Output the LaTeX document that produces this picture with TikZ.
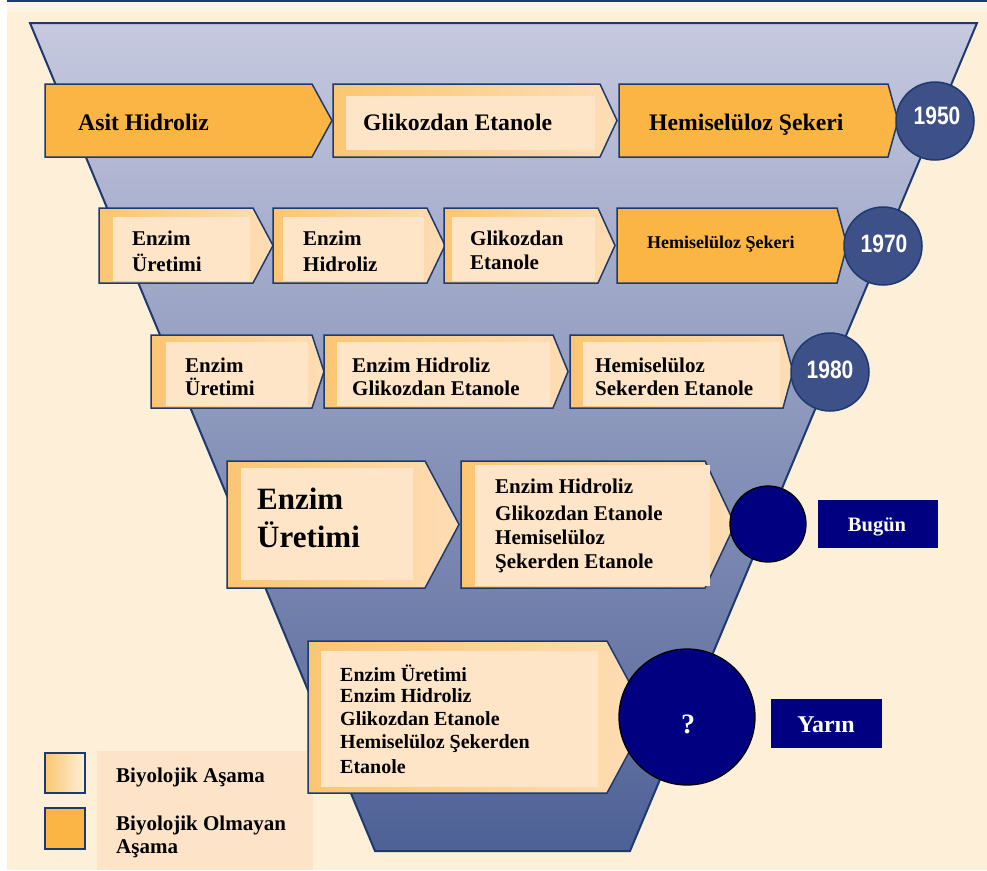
\documentclass[tikz,border=0pt]{standalone}
\usepackage{fontspec}
\setmainfont{Liberation Serif}
\newfontfamily\yearfont{Liberation Sans}

\definecolor{cream}{HTML}{FEEFD8}
\definecolor{creamlight}{HTML}{FEF4E6}
\definecolor{edgeblue}{HTML}{1C3A6F}
\definecolor{funtop}{HTML}{C6C9DF}
\definecolor{funmid}{HTML}{8C97BF}
\definecolor{funbot}{HTML}{4E6196}
\definecolor{orfill}{HTML}{FBB545}
\definecolor{frameor}{HTML}{FBC672}
\definecolor{framelt}{HTML}{FEDDB6}
\definecolor{panel}{HTML}{FEE5C8}
\definecolor{legendbg}{HTML}{FDE4C8}
\definecolor{yearblue}{HTML}{3D5087}
\definecolor{navy}{HTML}{000080}

% chevron boxes: #1 left x, #2 top y, #3 right x, #4 tip x, #5 bottom y, #6 middle y
\newcommand\orchev[6]{%
  \filldraw[fill=orfill, draw=edgeblue, line width=1.5pt, line join=miter]
    (#1,#2) -- (#3,#2) -- (#4,#6) -- (#3,#5) -- (#1,#5) -- cycle;}
\newcommand\ltchev[6]{%
  \shadedraw[left color=frameor, right color=framelt, draw=edgeblue, line width=1.5pt, line join=miter]
    (#1,#2) -- (#3,#2) -- (#4,#6) -- (#3,#5) -- (#1,#5) -- cycle;}
% inner text panel: corners
\newcommand\panelrect[4]{\fill[panel] (#1,#2) rectangle (#3,#4);}

\tikzset{
  lbl/.style={anchor=base west, inner sep=0pt, font=\bfseries\fontsize{21}{25}\selectfont},
  lblbig/.style={anchor=base west, inner sep=0pt, font=\bfseries\fontsize{23.7}{28}\selectfont},
  lblsmall/.style={anchor=base west, inner sep=0pt, font=\bfseries\fontsize{18}{21}\selectfont},
  lblhuge/.style={anchor=base west, inner sep=0pt, font=\bfseries\fontsize{31}{36}\selectfont},
  lblfive/.style={anchor=base west, inner sep=0pt, font=\bfseries\fontsize{20}{24}\selectfont},
  yearcirc/.style={circle, fill=yearblue, draw=edgeblue, line width=1.5pt, minimum size=78pt, inner sep=0pt},
  navycirc/.style={circle, fill=navy, draw=black, line width=1.3pt, inner sep=0pt},
  yeartxt/.style={anchor=center, inner sep=0pt, text=white, font=\yearfont\bfseries\fontsize{21}{21}\selectfont},
  tagbox/.style={fill=navy, inner sep=0pt},
  tagtxt/.style={anchor=base, inner sep=0pt, text=white, font=\bfseries\fontsize{20.5}{24}\selectfont},
}

\begin{document}
\begin{tikzpicture}[x=1pt, y=-1pt]
\useasboundingbox (0,0) rectangle (987,870);

% page background and top rule
\fill[white] (0,0) rectangle (987,870);
\fill[cream] (7,0) rectangle (987,870);
\fill[creamlight] (7,2) rectangle (987,12);
\draw[edgeblue, line width=2.5pt] (7,1) -- (987,1);

% funnel
\shade[top color=funtop, middle color=funmid, bottom color=funbot]
  (30,23) -- (977,23) -- (630,851) -- (375,851) -- cycle;
\draw[edgeblue, line width=2pt, line join=miter]
  (30,23) -- (977,23) -- (630,851) -- (375,851) -- cycle;

% legend backdrop
\fill[legendbg] (97,751) rectangle (313,870);

% ---- 1950 row
\orchev{45}{84}{312}{332}{157}{120.5}
\ltchev{333}{84}{600}{617}{157}{120.5}
\panelrect{346}{96}{595}{150}
\orchev{619}{84}{888}{898}{157}{120.5}
\node[lblbig] (a1) at (78,130) {Asit Hidroliz};
\node[lblbig] (a2) at (363,130) {Glikozdan Etanole};
\node[lblbig] (a3) at (649,130) {Hemiselüloz Şekeri};
\node[yearcirc] (y1950) at (935,121) {};
\node[yeartxt] (t1950) at (937,116) {\scalebox{1}[1.2]{1950}};

% ---- 1970 row
\ltchev{99}{208}{253}{273}{283}{245.5}
\panelrect{113}{217}{250}{281}
\ltchev{273}{208}{427}{445}{283}{245.5}
\panelrect{283}{217}{424}{281}
\ltchev{444}{208}{598}{615}{283}{245.5}
\panelrect{452}{217}{595}{281}
\orchev{617}{208}{837}{847}{283}{245.5}
\node[lbl] (b1a) at (132,245) {Enzim};
\node[lbl] (b1b) at (132,271) {Üretimi};
\node[lbl] (b2a) at (303,245) {Enzim};
\node[lbl] (b2b) at (303,271) {Hidroliz};
\node[lbl] (b3a) at (470,245) {Glikozdan};
\node[lbl] (b3b) at (470,269) {Etanole};
\node[lblsmall] (b4) at (647,248) {Hemiselüloz Şekeri};
\node[yearcirc] (y1970) at (883,246) {};
\node[yeartxt] (t1970) at (884,244) {\scalebox{1}[1.2]{1970}};

% ---- 1980 row
\ltchev{151}{335}{312}{324}{408}{371.5}
\panelrect{166}{342}{308}{406}
\ltchev{324}{335}{553}{568}{408}{371.5}
\panelrect{337}{342}{550}{406}
\ltchev{570}{335}{783}{793}{408}{371.5}
\panelrect{583}{342}{780}{406}
\node[lbl] (c1a) at (185,372) {Enzim};
\node[lbl] (c1b) at (185,395) {Üretimi};
\node[lbl] (c2a) at (352,372) {Enzim Hidroliz};
\node[lbl] (c2b) at (352,395) {Glikozdan Etanole};
\node[lbl] (c3a) at (595,372) {Hemiselüloz};
\node[lbl] (c3b) at (595,395) {Sekerden Etanole};
\node[yearcirc] (y1980) at (830,372) {};
\node[yeartxt] (t1980) at (830,370) {\scalebox{1}[1.2]{1980}};

% ---- present row
\ltchev{227}{461}{425}{459}{588}{524.5}
\panelrect{241}{468}{413}{580}
\ltchev{461}{461}{705}{735}{588}{524.5}
\panelrect{475}{465}{710}{586}
\node[lblhuge] (d1a) at (257,509) {Enzim};
\node[lblhuge] (d1b) at (257,547) {Üretimi};
\node[lbl] (d2a) at (495,493) {Enzim Hidroliz};
\node[lbl] (d2b) at (495,520) {Glikozdan Etanole};
\node[lbl] (d2c) at (495,544) {Hemiselüloz};
\node[lbl] (d2d) at (495,568) {Şekerden Etanole};
\node[navycirc, minimum size=76pt] (now) at (768,524) {};
\node[tagbox, minimum width=120pt, minimum height=48pt] (nowbox) at (878,524) {};
\node[tagtxt] (nowtxt) at (877,531) {Bugün};

% ---- future row
\ltchev{308}{641}{607}{648}{793}{717}
\panelrect{321}{651}{598}{787}
\node[lblfive] (e1) at (340,681) {Enzim Üretimi};
\node[lblfive] (e2) at (340,702) {Enzim Hidroliz};
\node[lblfive] (e3) at (340,725) {Glikozdan Etanole};
\node[lblfive] (e4) at (340,748) {Hemiselüloz Şekerden};
\node[lblfive] (e5) at (340,773) {Etanole};
\node[navycirc, minimum size=136pt] (next) at (687,717) {};
\node[anchor=base, inner sep=0pt, text=white, font=\bfseries\fontsize{28}{30}\selectfont] (q) at (688,733) {?};
\node[tagbox, minimum width=111pt, minimum height=49pt] (nextbox) at (826.5,723.5) {};
\node[tagtxt, font=\bfseries\fontsize{24}{28}\selectfont] (nexttxt) at (826,732) {Yarın};

% ---- legend
\shadedraw[left color=frameor, right color=cream, draw=edgeblue, line width=1.5pt] (45,753) rectangle (85,793);
\filldraw[fill=orfill, draw=edgeblue, line width=1.5pt] (45,808) rectangle (85,849);
\node[lbl] (g1) at (116,782) {Biyolojik Aşama};
\node[lbl] (g2) at (116,830) {Biyolojik Olmayan};
\node[lbl] (g3) at (116,853) {Aşama};
\end{tikzpicture}
\end{document}
